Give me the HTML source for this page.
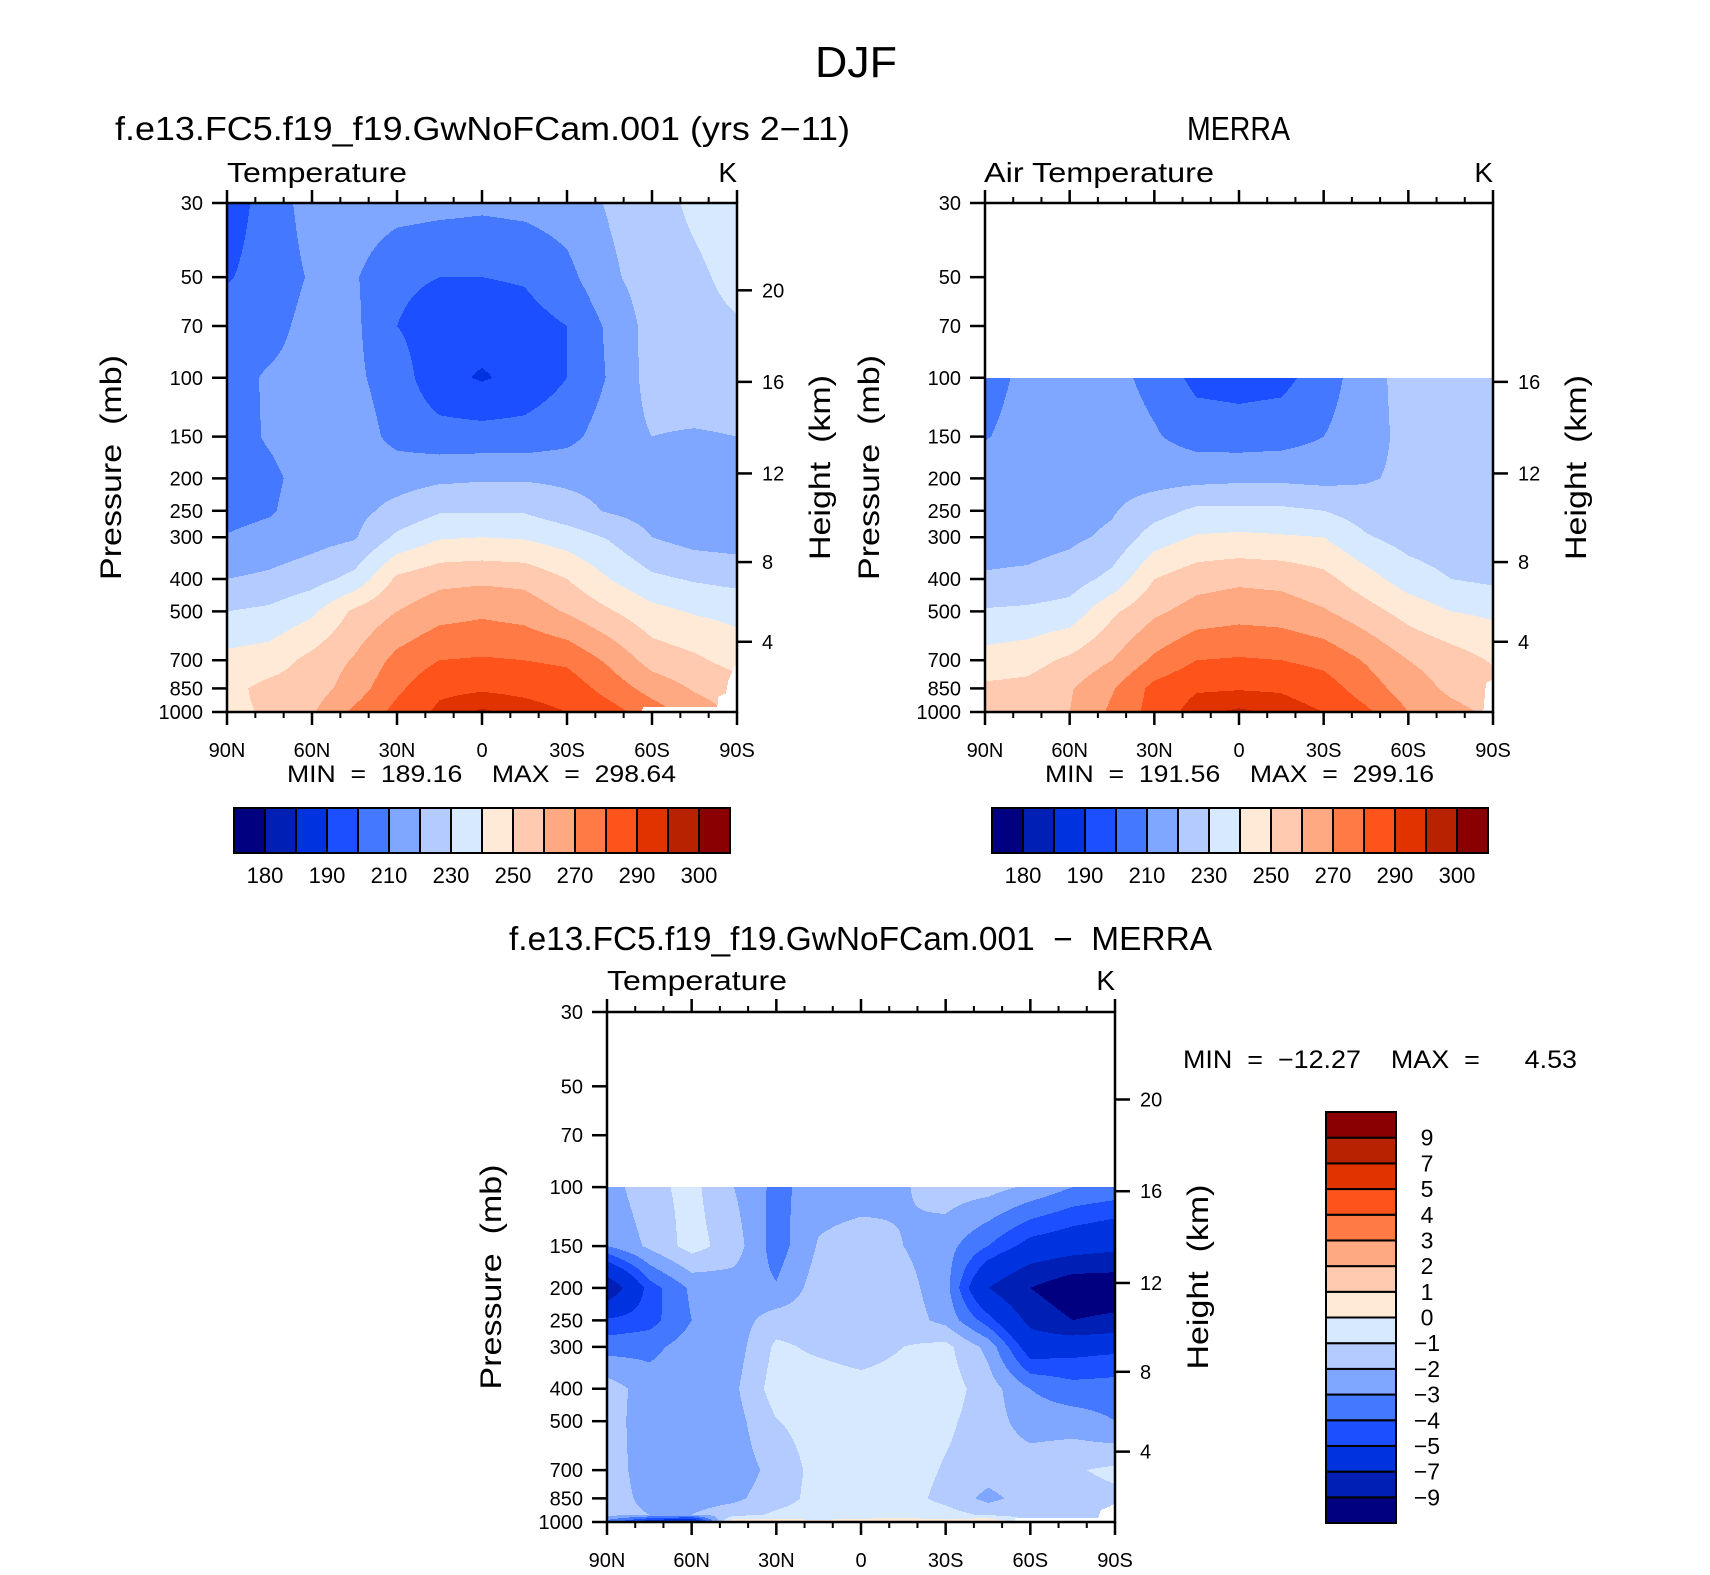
<!DOCTYPE html>
<html><head><meta charset="utf-8"><style>
html,body{margin:0;padding:0;background:#fff}
svg{display:block}
text{font-family:"Liberation Sans","DejaVu Sans",sans-serif;fill:#000;white-space:pre}
</style></head><body>
<svg id="root" width="1710" height="1575" viewBox="0 0 1710 1575" xmlns="http://www.w3.org/2000/svg">
<text x="815" y="77" font-size="44" textLength="82" lengthAdjust="spacingAndGlyphs">DJF</text>
<text x="115" y="140" font-size="33" textLength="735" lengthAdjust="spacingAndGlyphs">f.e13.FC5.f19_f19.GwNoFCam.001 (yrs 2−11)</text>
<text x="1187" y="140" font-size="33" textLength="103" lengthAdjust="spacingAndGlyphs">MERRA</text>
<text x="509" y="950" font-size="33" textLength="703" lengthAdjust="spacingAndGlyphs">f.e13.FC5.f19_f19.GwNoFCam.001  −  MERRA</text>
<text x="227" y="182" font-size="28" textLength="180" lengthAdjust="spacingAndGlyphs">Temperature</text>
<text x="984" y="182" font-size="28" textLength="230" lengthAdjust="spacingAndGlyphs">Air Temperature</text>
<text x="607" y="990" font-size="28" textLength="180" lengthAdjust="spacingAndGlyphs">Temperature</text>
<text x="737" y="182" font-size="28" text-anchor="end">K</text>
<text x="1493" y="182" font-size="28" text-anchor="end">K</text>
<text x="1115" y="990" font-size="28" text-anchor="end">K</text>
<text x="287" y="782" font-size="24" textLength="389" lengthAdjust="spacingAndGlyphs">MIN  =  189.16    MAX  =  298.64</text>
<text x="1045" y="782" font-size="24" textLength="389" lengthAdjust="spacingAndGlyphs">MIN  =  191.56    MAX  =  299.16</text>
<text x="1183" y="1068" font-size="25" textLength="394" lengthAdjust="spacingAndGlyphs">MIN  =  −12.27    MAX  =      4.53</text>
</svg>
<script>
// ---- data ----
const lats = [90,75,60,45,30,15,0,-15,-30,-45,-60,-75,-90];
const pLevelsModel = [30,50,70,100,150,200,250,300,400,500,700,850,1000];
const modelT = [
[194,205,214,216,214,213,212,213,215,221,226,232,236],
[199,205,211,211,202,200,200,201,207,218,225,228,233],
[206,207,213,212,200,195,194,196,200,212,224,227,229],
[207,211,213,212,205,193,189,193,200,211,224,226,226],
[206,211,215,215,207,204,204,204,207,215,220,219,220],
[206,208,214,216,216,218,219,219,218,217,216,216,216],
[207,209,215,217,223,229,229,229,224,219,216,215,214],
[210.5,213,216,219,232,239,240,239,235,229,220,216,215],
[220,222,226,233,252,257,258,257,250,240,232,229,227],
[230,232,238,252,260,266,268,266,259,251,243,239,237],
[243,245,253,261,273,280,281,280,278,268,256,252,246],
[247,253,255,265,278,288,289,288,286,276,266,259,255],
[248,251,259,272,283,292,296,293,290,284,275,265,258]];
const pLevelsMerra = [100,150,200,250,300,400,500,700,850,1000];
const merraT = [
[207,212,214,213,207,197,196,197,205,216,224,225,225],
[209.5,213,215,215,211,206,205,206,210,216,223,224,224],
[215,215,215,216,216,217,218,218,217,219,222,222,222],
[215,216,216,219,226,232,232,232,230,225,224,223,222],
[216,216,218,222,235,241,242,241,240,231,226,224,221],
[221,222,225,233,250,256,258,257,253,244,235,230,228],
[231,232,234,248,258,264,266,265,261,254,246,240,238],
[244,246,252,260,272,280,281,280,277,269,260,255,249],
[252,253,259,269,283,289,289.5,289,285,275,265,258,254],
[250,253,260,272,284,294,296,294,290,282,270,263,258]];
const pLevelsDiff = [100,150,200,250,300,400,500,700,850,950,1000];
const diffT = [
[-2.5,-1.3,-0.7,-2,-3.3,-2.5,-2.5,-2.1,-1.5,-1.6,-2.2,-3,-3.3],
[-3,-1.8,-0.6,-1.5,-3.5,-1.9,-1.5,-2,-2.6,-4,-5.5,-6,-6.5],
[-8.5,-4.5,-2.8,-2.5,-2.9,-1.5,-1.5,-1.6,-2.6,-7,-9,-10.5,-10.5],
[-4.8,-4.4,-3,-2.5,-1.5,-1.5,-1.4,-1.5,-2.3,-4.5,-7.5,-9,-8.5],
[-3.4,-3.3,-2.5,-2.5,-0.8,-1.2,-1.5,-1,-0.7,-2.3,-5.8,-5.5,-5.3],
[-1.5,-2.5,-2.5,-2.2,-0.5,-0.4,-0.6,-0.5,-0.5,-1.5,-3,-3.6,-3.5],
[-1.5,-2.6,-2.5,-2.4,-1.05,-0.5,-0.5,-0.5,-0.8,-1.5,-2.5,-2.5,-3],
[-1.5,-2.5,-2.5,-2.5,-1.7,-0.6,-0.5,-0.5,-1.1,-1.5,-1.4,-1.1,-0.8],
[-1.5,-2.3,-2.4,-2.2,-1.5,-0.6,-0.6,-0.6,-1.3,-2.3,-1.5,-1.4,-1.2],
[-1.6,-2,-2,-1.5,-0.8,-0.5,-0.4,-0.4,-0.6,-1.2,-1.5,-1.4,-1.2],
[-3.5,-6,-7.5,1.2,0.5,0.2,0.3,0.5,0.3,1.2,-1,-1,-1]];
// missing-data boundaries [lat, pressure below which data exists]
const modelMissing = [[-56,1001],[-57,965],[-83,965],[-83.5,900],[-86,880],[-87,800],[-89.5,720],[-90,720]];
const merraMissing = [[-86.5,1001],[-87.5,820],[-90,800]];
const diffMissing = [[-54,1001],[-55,975],[-84,975],[-85,920],[-88,900],[-90,880]];
const levelsT = [180,185,190,200,210,220,230,240,250,260,270,280,290,295,300];
const levelsD = [-9,-7,-5,-4,-3,-2,-1,0,1,2,3,4,5,7,9];
const labelsT = ["180","190","210","230","250","270","290","300"];
const labelsD = ["−9","−7","−5","−4","−3","−2","−1","0","1","2","3","4","5","7","9"];
const fillColors = ["#000080","#001fb5","#0033e0","#1b4fff","#4479ff","#80a7ff","#b3cbff","#d6e9ff","#ffead8","#ffcab0","#ffa982","#ff7a45","#ff531c","#e03300","#b82200","#8a0000"];
const pressureTicks = [30,50,70,100,150,200,250,300,400,500,700,850,1000];
const latMajor = [90,60,30,0,-30,-60,-90];
const latLabels = ["90N","60N","30N","0","30S","60S","90S"];
const heightTicksFull = [20,16,12,8,4];
const heightTicksMerra = [16,12,8,4];

const NS="http://www.w3.org/2000/svg";
const root=document.getElementById('root');
function mk(tag,attrs,parent){const e=document.createElementNS(NS,tag);for(const k in attrs)e.setAttribute(k,attrs[k]);(parent||root).appendChild(e);return e;}
function levelIndex(v,levels){let i=0;while(i<levels.length&&v>=levels[i])i++;return i;}
function zToP(km){const z=km*1000;return z<=11000?1013.25*Math.pow(1-2.25577e-5*z,5.25588):226.32*Math.exp(-(z-11000)/6341.6);}
function maskP(mask,lat){if(!mask||lat>mask[0][0])return Infinity;for(let i=0;i<mask.length-1;i++){const a=mask[i],b=mask[i+1];if(lat<=a[0]&&lat>=b[0]){const t=(a[0]-lat)/(a[0]-b[0]||1);return a[1]+(b[1]-a[1])*t;}}return mask[mask.length-1][1];}

function panel(cfg){
  const g=mk('g',{});
  
  
  const L=cfg.x,T=cfg.y,W=cfg.w,H=cfg.h;
  const lnTop=Math.log(30),lnBot=Math.log(1000);
  const yOf=p=>T+(Math.log(p)-lnTop)/(lnBot-lnTop)*H;
  const xOf=lat=>L+(90-lat)/180*W;
  const lnP=cfg.p.map(Math.log);
  const cells=mk('g',{'shape-rendering':'crispEdges'},g);
  
  
  for(let py=0;py<H;py++){
    const p=Math.exp(lnTop+(py+0.5)/H*(lnBot-lnTop));
    if(p<cfg.p[0])continue;
    const lp=Math.log(p);
    let j=0;while(j<lnP.length-2&&lp>lnP[j+1])j++;
    let ty=(lp-lnP[j])/(lnP[j+1]-lnP[j]);ty=Math.max(0,Math.min(1,ty));
    let runStart=0,runIdx=-2;
    const flush=(end)=>{if(runIdx>=0){mk('rect',{x:L+runStart,y:T+py,width:end-runStart,height:1,fill:fillColors[runIdx]},cells);}};
    for(let px=0;px<W;px++){
      const lat=90-180*(px+0.5)/W;
      let idx;
      if(p>maskP(cfg.mask,lat)){idx=-1;}
      else{
        const fi=(px+0.5)/W*(lats.length-1);let i=Math.min(lats.length-2,Math.floor(fi));const tx=fi-i;
        const f=cfg.field;
        const v=(1-ty)*((1-tx)*f[j][i]+tx*f[j][i+1])+ty*((1-tx)*f[j+1][i]+tx*f[j+1][i+1]);
        idx=levelIndex(v,cfg.levels);
      }
      if(idx!==runIdx){flush(px);runStart=px;runIdx=idx;}
    }
    flush(W);
  }
  const fr=mk('rect',{x:L,y:T,width:W,height:H,fill:'none',stroke:'#000','stroke-width':2.5},g);
  
  
  pressureTicks.forEach(p=>{
    const y=yOf(p);
    mk('line',{x1:L-15,x2:L,y1:y,y2:y,stroke:'#000','stroke-width':2.5},g);
    const t=mk('text',{x:L-24,y:y+7,'font-size':20,'text-anchor':'end'},g);t.textContent=p;
    
    
  });
  for(let lat=90;lat>=-90;lat-=10){
    const x=xOf(lat),major=lat%30===0;
    const len=major?13:6;
    mk('line',{x1:x,x2:x,y1:T-len,y2:T,stroke:'#000','stroke-width':major?2.5:2},g);
    mk('line',{x1:x,x2:x,y1:T+H,y2:T+H+len,stroke:'#000','stroke-width':major?2.5:2},g);
  }
  latMajor.forEach((lat,i)=>{
    const t=mk('text',{x:xOf(lat),y:T+H+45,'font-size':20,'text-anchor':'middle'},g);t.textContent=latLabels[i];
    
    
  });
  cfg.hticks.forEach(km=>{
    const y=yOf(zToP(km));
    mk('line',{x1:L+W,x2:L+W+15,y1:y,y2:y,stroke:'#000','stroke-width':2.5},g);
    const t=mk('text',{x:L+W+25,y:y+7,'font-size':20},g);t.textContent=km;
    
    
  });
  const pt=mk('text',{x:0,y:0,'font-size':30,'text-anchor':'middle',transform:`translate(${L-106},${T+H*0.5+10}) rotate(-90)`,textLength:225,lengthAdjust:'spacingAndGlyphs'},g);
  pt.textContent='Pressure  (mb)';
  
  
  const ht=mk('text',{x:0,y:0,'font-size':30,'text-anchor':'middle',transform:`translate(${L+W+93},${T+H*0.5+10}) rotate(-90)`,textLength:185,lengthAdjust:'spacingAndGlyphs'},g);
  ht.textContent='Height  (km)';
  
  
}
panel({name:'model-panel',x:227,y:203,w:510,h:509,field:modelT,p:pLevelsModel,levels:levelsT,mask:modelMissing,hticks:heightTicksFull});
panel({name:'merra-panel',x:985,y:203,w:508,h:509,field:merraT,p:pLevelsMerra,levels:levelsT,mask:merraMissing,hticks:heightTicksMerra});
panel({name:'difference-panel',x:607,y:1012,w:508,h:510,field:diffT,p:pLevelsDiff,levels:levelsD,mask:diffMissing,hticks:heightTicksFull});

function hbar(name,x0,y0,w,h){
  const g=mk('g',{});
  
  
  const bw=w/fillColors.length;
  fillColors.forEach((c,i)=>{
    const r=mk('rect',{x:x0+i*bw,y:y0,width:bw,height:h,fill:c,stroke:'#000','stroke-width':2},g);
    
    
  });
  labelsT.forEach((s,k)=>{
    const t=mk('text',{x:x0+(2*k+1)*bw,y:y0+h+30,'font-size':22,'text-anchor':'middle'},g);t.textContent=s;
    
    
  });
}
hbar('model-colorbar',234,808,496,45);
hbar('merra-colorbar',992,808,496,45);
(function(){
  const g=mk('g',{});
  
  
  const x0=1326,y0=1112,w=70,h=411,bh=h/fillColors.length;
  fillColors.forEach((c,i)=>{
    const r=mk('rect',{x:x0,y:y0+h-(i+1)*bh,width:w,height:bh,fill:c,stroke:'#000','stroke-width':2},g);
    
    
  });
  labelsD.forEach((s,k)=>{
    const t=mk('text',{x:1427,y:y0+h-(k+1)*bh+8,'font-size':23,'text-anchor':'middle'},g);t.textContent=s;
    
    
  });
})();
</script>
</body></html>
